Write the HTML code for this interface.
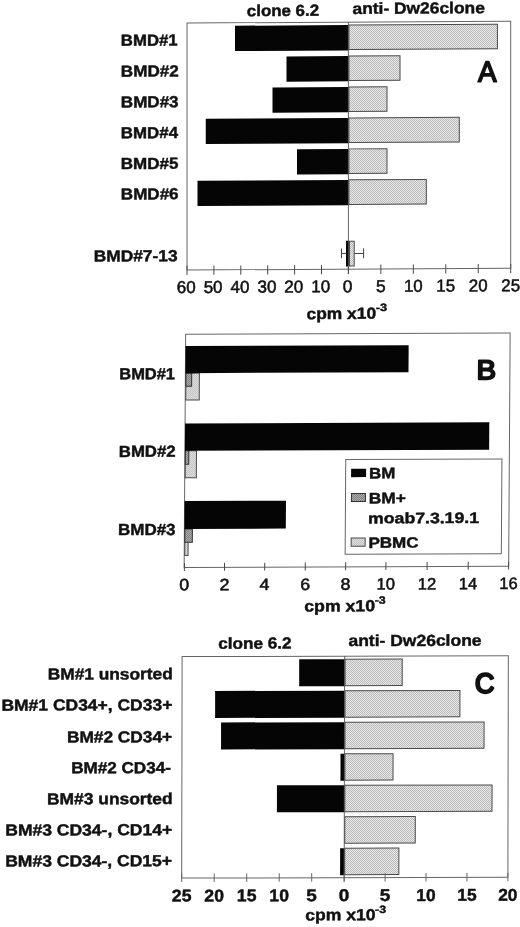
<!DOCTYPE html>
<html><head><meta charset="utf-8"><title>Figure</title>
<style>html,body{margin:0;padding:0;background:#fff}svg{display:block}text{font-family:"Liberation Sans",Arial,Helvetica,sans-serif}</style>
</head><body>
<svg width="520" height="927" viewBox="0 0 520 927">
<rect width="520" height="927" fill="#fff"/>
<defs>
<pattern id="ltA" width="2" height="2" patternUnits="userSpaceOnUse" patternTransform="matrix(1.000000,0.005600,0.000000,1.000000,0.0000,-1.9488)"><rect width="2" height="2" fill="#e8e8e8"/><rect width="1" height="1" fill="#bababa"/><rect x="1" y="1" width="1" height="1" fill="#bababa"/></pattern>
<pattern id="dkA" width="2" height="2" patternUnits="userSpaceOnUse" patternTransform="matrix(1.000000,0.005600,0.000000,1.000000,0.0000,-1.9488)"><rect width="2" height="2" fill="#bcbcbc"/><rect width="1" height="1" fill="#707070"/><rect x="1" y="1" width="1" height="1" fill="#707070"/></pattern>
<pattern id="ltB" width="2" height="2" patternUnits="userSpaceOnUse" patternTransform="matrix(1.000026,0.004000,0.006400,1.000026,-2.8890,-1.3996)"><rect width="2" height="2" fill="#e8e8e8"/><rect width="1" height="1" fill="#bababa"/><rect x="1" y="1" width="1" height="1" fill="#bababa"/></pattern>
<pattern id="dkB" width="2" height="2" patternUnits="userSpaceOnUse" patternTransform="matrix(1.000026,0.004000,0.006400,1.000026,-2.8890,-1.3996)"><rect width="2" height="2" fill="#bcbcbc"/><rect width="1" height="1" fill="#707070"/><rect x="1" y="1" width="1" height="1" fill="#707070"/></pattern>
<pattern id="ltC" width="2" height="2" patternUnits="userSpaceOnUse" patternTransform="matrix(1.000005,0.002500,0.002000,1.000005,-1.5357,-0.8638)"><rect width="2" height="2" fill="#e8e8e8"/><rect width="1" height="1" fill="#bababa"/><rect x="1" y="1" width="1" height="1" fill="#bababa"/></pattern>
<pattern id="dkC" width="2" height="2" patternUnits="userSpaceOnUse" patternTransform="matrix(1.000005,0.002500,0.002000,1.000005,-1.5357,-0.8638)"><rect width="2" height="2" fill="#bcbcbc"/><rect width="1" height="1" fill="#707070"/><rect x="1" y="1" width="1" height="1" fill="#707070"/></pattern>
</defs>
<g transform="matrix(1,-0.0056,0,1,0.000,1.949)">
<rect x="187.00" y="22.10" width="323.70" height="247.00" fill="none" stroke="#666" stroke-width="1"/>
<rect x="235.00" y="25.10" width="113.40" height="25.30" fill="#050505"/>
<rect x="348.90" y="25.00" width="148.50" height="24.60" fill="url(#ltA)" stroke="#4a4a4a" stroke-width="1"/>
<rect x="286.50" y="56.07" width="61.90" height="25.30" fill="#050505"/>
<rect x="348.90" y="55.97" width="51.10" height="24.60" fill="url(#ltA)" stroke="#4a4a4a" stroke-width="1"/>
<rect x="272.50" y="87.04" width="75.90" height="25.30" fill="#050505"/>
<rect x="348.90" y="86.94" width="38.10" height="24.60" fill="url(#ltA)" stroke="#4a4a4a" stroke-width="1"/>
<rect x="205.75" y="118.01" width="142.65" height="25.30" fill="#050505"/>
<rect x="348.90" y="117.91" width="110.40" height="24.60" fill="url(#ltA)" stroke="#4a4a4a" stroke-width="1"/>
<rect x="297.00" y="148.98" width="51.40" height="25.30" fill="#050505"/>
<rect x="348.90" y="148.88" width="38.10" height="24.60" fill="url(#ltA)" stroke="#4a4a4a" stroke-width="1"/>
<rect x="197.50" y="179.95" width="150.90" height="25.30" fill="#050505"/>
<rect x="348.90" y="179.85" width="77.40" height="24.60" fill="url(#ltA)" stroke="#4a4a4a" stroke-width="1"/>
<rect x="346.00" y="240.80" width="3.00" height="25.70" fill="#050505"/>
<rect x="349.50" y="241.30" width="4.70" height="24.70" fill="url(#ltA)" stroke="#4a4a4a" stroke-width="1"/>
<line x1="341.50" y1="253.50" x2="346.00" y2="253.50" stroke="#444" stroke-width="1"/>
<line x1="341.50" y1="248.40" x2="341.50" y2="258.30" stroke="#444" stroke-width="1"/>
<line x1="354.70" y1="253.50" x2="363.60" y2="253.50" stroke="#444" stroke-width="1"/>
<line x1="363.60" y1="248.40" x2="363.60" y2="258.30" stroke="#444" stroke-width="1"/>
<line x1="348.40" y1="22.10" x2="348.40" y2="274.10" stroke="#555" stroke-width="0.9"/>
<line x1="187.00" y1="264.80" x2="187.00" y2="274.10" stroke="#4a4a4a" stroke-width="1"/>
<line x1="213.90" y1="264.80" x2="213.90" y2="274.10" stroke="#4a4a4a" stroke-width="1"/>
<line x1="240.80" y1="264.80" x2="240.80" y2="274.10" stroke="#4a4a4a" stroke-width="1"/>
<line x1="267.70" y1="264.80" x2="267.70" y2="274.10" stroke="#4a4a4a" stroke-width="1"/>
<line x1="294.60" y1="264.80" x2="294.60" y2="274.10" stroke="#4a4a4a" stroke-width="1"/>
<line x1="321.50" y1="264.80" x2="321.50" y2="274.10" stroke="#4a4a4a" stroke-width="1"/>
<line x1="348.40" y1="264.80" x2="348.40" y2="274.10" stroke="#4a4a4a" stroke-width="1"/>
<line x1="380.86" y1="264.80" x2="380.86" y2="274.10" stroke="#4a4a4a" stroke-width="1"/>
<line x1="413.32" y1="264.80" x2="413.32" y2="274.10" stroke="#4a4a4a" stroke-width="1"/>
<line x1="445.78" y1="264.80" x2="445.78" y2="274.10" stroke="#4a4a4a" stroke-width="1"/>
<line x1="478.24" y1="264.80" x2="478.24" y2="274.10" stroke="#4a4a4a" stroke-width="1"/>
<line x1="510.70" y1="264.80" x2="510.70" y2="274.10" stroke="#4a4a4a" stroke-width="1"/>
<text transform="translate(176.74,292.10) scale(0.9915,1)" font-size="17.16" font-weight="normal" fill="#111" stroke="#111" stroke-width="0.55" stroke-linejoin="round">60</text>
<text transform="translate(203.64,292.10) scale(0.9915,1)" font-size="17.16" font-weight="normal" fill="#111" stroke="#111" stroke-width="0.55" stroke-linejoin="round">50</text>
<text transform="translate(230.54,292.10) scale(0.9915,1)" font-size="17.16" font-weight="normal" fill="#111" stroke="#111" stroke-width="0.55" stroke-linejoin="round">40</text>
<text transform="translate(257.44,292.10) scale(0.9915,1)" font-size="17.16" font-weight="normal" fill="#111" stroke="#111" stroke-width="0.55" stroke-linejoin="round">30</text>
<text transform="translate(284.34,292.10) scale(0.9915,1)" font-size="17.16" font-weight="normal" fill="#111" stroke="#111" stroke-width="0.55" stroke-linejoin="round">20</text>
<text transform="translate(311.24,292.10) scale(0.9915,1)" font-size="17.16" font-weight="normal" fill="#111" stroke="#111" stroke-width="0.55" stroke-linejoin="round">10</text>
<text transform="translate(342.77,292.10) scale(1.0127,1)" font-size="17.16" font-weight="normal" fill="#111" stroke="#111" stroke-width="0.55" stroke-linejoin="round">0</text>
<text transform="translate(376.03,292.10) scale(1.0127,1)" font-size="17.16" font-weight="normal" fill="#111" stroke="#111" stroke-width="0.55" stroke-linejoin="round">5</text>
<text transform="translate(403.91,292.10) scale(0.9858,1)" font-size="17.16" font-weight="normal" fill="#111" stroke="#111" stroke-width="0.55" stroke-linejoin="round">10</text>
<text transform="translate(436.37,292.10) scale(0.9858,1)" font-size="17.16" font-weight="normal" fill="#111" stroke="#111" stroke-width="0.55" stroke-linejoin="round">15</text>
<text transform="translate(468.83,292.10) scale(0.9858,1)" font-size="17.16" font-weight="normal" fill="#111" stroke="#111" stroke-width="0.55" stroke-linejoin="round">20</text>
<text transform="translate(501.29,292.10) scale(0.9858,1)" font-size="17.16" font-weight="normal" fill="#111" stroke="#111" stroke-width="0.55" stroke-linejoin="round">25</text>
<text transform="translate(306.61,318.90) scale(1.0851,1)" font-size="16.00" font-weight="bold" fill="#111" stroke="#111" stroke-width="0.45" stroke-linejoin="round">cpm x10</text>
<text transform="translate(375.69,311.30) scale(1.1939,1)" font-size="10.62" font-weight="bold" fill="#111" stroke="#111" stroke-width="0.45" stroke-linejoin="round">-3</text>
<text transform="translate(120.87,44.60) scale(1.0478,1)" font-size="16.00" font-weight="bold" fill="#111" stroke="#111" stroke-width="0.45" stroke-linejoin="round">BMD#1</text>
<text transform="translate(120.85,75.40) scale(1.0671,1)" font-size="16.00" font-weight="bold" fill="#111" stroke="#111" stroke-width="0.45" stroke-linejoin="round">BMD#2</text>
<text transform="translate(120.85,106.20) scale(1.0654,1)" font-size="16.00" font-weight="bold" fill="#111" stroke="#111" stroke-width="0.45" stroke-linejoin="round">BMD#3</text>
<text transform="translate(120.86,137.00) scale(1.0558,1)" font-size="16.00" font-weight="bold" fill="#111" stroke="#111" stroke-width="0.45" stroke-linejoin="round">BMD#4</text>
<text transform="translate(120.85,167.85) scale(1.0630,1)" font-size="16.00" font-weight="bold" fill="#111" stroke="#111" stroke-width="0.45" stroke-linejoin="round">BMD#5</text>
<text transform="translate(120.85,198.35) scale(1.0654,1)" font-size="16.00" font-weight="bold" fill="#111" stroke="#111" stroke-width="0.45" stroke-linejoin="round">BMD#6</text>
<text transform="translate(93.83,260.15) scale(1.0829,1)" font-size="16.00" font-weight="bold" fill="#111" stroke="#111" stroke-width="0.45" stroke-linejoin="round">BMD#7-13</text>
<text transform="translate(246.82,15.60) scale(1.0565,1)" font-size="16.00" font-weight="bold" fill="#111" stroke="#111" stroke-width="0.45" stroke-linejoin="round">clone 6.2</text>
<text transform="translate(352.48,13.90) scale(1.0877,1)" font-size="16.00" font-weight="bold" fill="#111" stroke="#111" stroke-width="0.45" stroke-linejoin="round">anti- Dw26clone</text>
<text transform="translate(477.93,82.45) scale(0.9547,1)" font-size="29.09" font-weight="normal" fill="#111" stroke="#111" stroke-width="1.7" stroke-linejoin="round">A</text>
</g>
<g transform="matrix(1,-0.004,-0.0064,1,2.880,1.388)">
<rect x="184.90" y="333.60" width="324.50" height="233.25" fill="none" stroke="#666" stroke-width="1"/>
<rect x="185.40" y="372.50" width="13.50" height="26.80" fill="url(#ltB)" stroke="#4a4a4a" stroke-width="1"/>
<rect x="185.40" y="372.50" width="5.80" height="13.20" fill="url(#dkB)" stroke="#333" stroke-width="1"/>
<rect x="184.90" y="345.40" width="223.09" height="27.10" fill="#050505"/>
<rect x="185.40" y="450.20" width="11.10" height="26.90" fill="url(#ltB)" stroke="#4a4a4a" stroke-width="1"/>
<rect x="185.40" y="450.20" width="3.40" height="13.40" fill="url(#dkB)" stroke="#333" stroke-width="1"/>
<rect x="184.90" y="422.90" width="304.22" height="27.30" fill="#050505"/>
<rect x="185.40" y="528.30" width="3.30" height="26.50" fill="url(#ltB)" stroke="#4a4a4a" stroke-width="1"/>
<rect x="185.40" y="528.30" width="7.50" height="13.30" fill="url(#dkB)" stroke="#333" stroke-width="1"/>
<rect x="184.90" y="500.40" width="101.41" height="27.90" fill="#050505"/>
<line x1="185.15" y1="562.35" x2="185.15" y2="570.25" stroke="#4a4a4a" stroke-width="1"/>
<line x1="225.25" y1="562.35" x2="225.25" y2="570.25" stroke="#4a4a4a" stroke-width="1"/>
<line x1="265.45" y1="562.35" x2="265.45" y2="570.25" stroke="#4a4a4a" stroke-width="1"/>
<line x1="306.05" y1="562.35" x2="306.05" y2="570.25" stroke="#4a4a4a" stroke-width="1"/>
<line x1="346.35" y1="562.35" x2="346.35" y2="570.25" stroke="#4a4a4a" stroke-width="1"/>
<line x1="386.65" y1="562.35" x2="386.65" y2="570.25" stroke="#4a4a4a" stroke-width="1"/>
<line x1="427.85" y1="562.35" x2="427.85" y2="570.25" stroke="#4a4a4a" stroke-width="1"/>
<line x1="468.95" y1="562.35" x2="468.95" y2="570.25" stroke="#4a4a4a" stroke-width="1"/>
<line x1="509.35" y1="562.35" x2="509.35" y2="570.25" stroke="#4a4a4a" stroke-width="1"/>
<text transform="translate(180.20,589.70) scale(1.0830,1)" font-size="16.44" font-weight="normal" fill="#111" stroke="#111" stroke-width="0.55" stroke-linejoin="round">0</text>
<text transform="translate(220.30,589.70) scale(1.0830,1)" font-size="16.44" font-weight="normal" fill="#111" stroke="#111" stroke-width="0.55" stroke-linejoin="round">2</text>
<text transform="translate(260.50,589.70) scale(1.0830,1)" font-size="16.44" font-weight="normal" fill="#111" stroke="#111" stroke-width="0.55" stroke-linejoin="round">4</text>
<text transform="translate(301.10,589.70) scale(1.0830,1)" font-size="16.44" font-weight="normal" fill="#111" stroke="#111" stroke-width="0.55" stroke-linejoin="round">6</text>
<text transform="translate(341.40,589.70) scale(1.0830,1)" font-size="16.44" font-weight="normal" fill="#111" stroke="#111" stroke-width="0.55" stroke-linejoin="round">8</text>
<text transform="translate(377.46,589.70) scale(1.0056,1)" font-size="16.44" font-weight="normal" fill="#111" stroke="#111" stroke-width="0.55" stroke-linejoin="round">10</text>
<text transform="translate(418.66,589.70) scale(1.0056,1)" font-size="16.44" font-weight="normal" fill="#111" stroke="#111" stroke-width="0.55" stroke-linejoin="round">12</text>
<text transform="translate(459.76,589.70) scale(1.0056,1)" font-size="16.44" font-weight="normal" fill="#111" stroke="#111" stroke-width="0.55" stroke-linejoin="round">14</text>
<text transform="translate(500.16,589.70) scale(1.0056,1)" font-size="16.44" font-weight="normal" fill="#111" stroke="#111" stroke-width="0.55" stroke-linejoin="round">16</text>
<text transform="translate(305.29,611.40) scale(1.1058,1)" font-size="16.00" font-weight="bold" fill="#111" stroke="#111" stroke-width="0.45" stroke-linejoin="round">cpm x10</text>
<text transform="translate(375.71,603.90) scale(1.1591,1)" font-size="10.62" font-weight="bold" fill="#111" stroke="#111" stroke-width="0.45" stroke-linejoin="round">-3</text>
<text transform="translate(118.79,378.40) scale(1.0289,1)" font-size="16.00" font-weight="bold" fill="#111" stroke="#111" stroke-width="0.45" stroke-linejoin="round">BMD#1</text>
<text transform="translate(118.87,456.00) scale(1.0461,1)" font-size="16.00" font-weight="bold" fill="#111" stroke="#111" stroke-width="0.45" stroke-linejoin="round">BMD#2</text>
<text transform="translate(118.66,534.20) scale(1.0597,1)" font-size="16.00" font-weight="bold" fill="#111" stroke="#111" stroke-width="0.45" stroke-linejoin="round">BMD#3</text>
<text transform="translate(476.03,379.85) scale(1.0771,1)" font-size="27.20" font-weight="normal" fill="#111" stroke="#111" stroke-width="2.0" stroke-linejoin="round">B</text>
<rect x="345.80" y="459.60" width="156.20" height="94.70" fill="#fff" stroke="#666" stroke-width="1"/>
<rect x="351.25" y="468.75" width="15.00" height="8.45" fill="#050505"/>
<rect x="351.75" y="493.50" width="14.00" height="8.00" fill="url(#dkB)" stroke="#333" stroke-width="1"/>
<rect x="351.75" y="538.00" width="14.00" height="8.25" fill="url(#ltB)" stroke="#4a4a4a" stroke-width="1"/>
<text transform="translate(369.16,478.50) scale(1.1150,1)" font-size="15.13" font-weight="bold" fill="#111" stroke="#111" stroke-width="0.45" stroke-linejoin="round">BM</text>
<text transform="translate(369.13,503.50) scale(1.1463,1)" font-size="15.13" font-weight="bold" fill="#111" stroke="#111" stroke-width="0.45" stroke-linejoin="round">BM+</text>
<text transform="translate(368.55,523.50) scale(1.1677,1)" font-size="15.13" font-weight="bold" fill="#111" stroke="#111" stroke-width="0.45" stroke-linejoin="round">moab7.3.19.1</text>
<text transform="translate(369.15,548.00) scale(1.1238,1)" font-size="15.13" font-weight="bold" fill="#111" stroke="#111" stroke-width="0.45" stroke-linejoin="round">PBMC</text>
</g>
<g transform="matrix(1,-0.0025,-0.002,1,1.534,0.860)">
<rect x="181.90" y="656.20" width="326.20" height="221.50" fill="none" stroke="#666" stroke-width="1"/>
<rect x="344.90" y="659.25" width="57.10" height="26.40" fill="url(#ltC)" stroke="#4a4a4a" stroke-width="1"/>
<rect x="299.00" y="659.15" width="45.40" height="27.00" fill="#050505"/>
<rect x="344.90" y="690.75" width="114.90" height="26.40" fill="url(#ltC)" stroke="#4a4a4a" stroke-width="1"/>
<rect x="215.00" y="690.65" width="129.40" height="27.00" fill="#050505"/>
<rect x="344.90" y="722.25" width="139.10" height="26.40" fill="url(#ltC)" stroke="#4a4a4a" stroke-width="1"/>
<rect x="221.00" y="722.15" width="123.40" height="27.00" fill="#050505"/>
<rect x="344.90" y="753.75" width="48.15" height="26.40" fill="url(#ltC)" stroke="#4a4a4a" stroke-width="1"/>
<rect x="340.50" y="753.65" width="3.90" height="27.00" fill="#050505"/>
<rect x="344.90" y="785.25" width="147.20" height="26.40" fill="url(#ltC)" stroke="#4a4a4a" stroke-width="1"/>
<rect x="277.00" y="785.15" width="67.40" height="27.00" fill="#050505"/>
<rect x="344.90" y="816.75" width="70.50" height="26.40" fill="url(#ltC)" stroke="#4a4a4a" stroke-width="1"/>
<rect x="344.90" y="848.25" width="54.15" height="26.40" fill="url(#ltC)" stroke="#4a4a4a" stroke-width="1"/>
<rect x="340.30" y="848.15" width="4.10" height="27.00" fill="#050505"/>
<line x1="344.40" y1="656.20" x2="344.40" y2="881.70" stroke="#555" stroke-width="0.9"/>
<line x1="181.90" y1="873.20" x2="181.90" y2="881.70" stroke="#666" stroke-width="1"/>
<line x1="214.40" y1="873.20" x2="214.40" y2="881.70" stroke="#666" stroke-width="1"/>
<line x1="246.90" y1="873.20" x2="246.90" y2="881.70" stroke="#666" stroke-width="1"/>
<line x1="279.40" y1="873.20" x2="279.40" y2="881.70" stroke="#666" stroke-width="1"/>
<line x1="311.90" y1="873.20" x2="311.90" y2="881.70" stroke="#666" stroke-width="1"/>
<line x1="344.40" y1="873.20" x2="344.40" y2="881.70" stroke="#666" stroke-width="1"/>
<line x1="385.32" y1="873.20" x2="385.32" y2="881.70" stroke="#666" stroke-width="1"/>
<line x1="426.25" y1="873.20" x2="426.25" y2="881.70" stroke="#666" stroke-width="1"/>
<line x1="467.18" y1="873.20" x2="467.18" y2="881.70" stroke="#666" stroke-width="1"/>
<line x1="508.10" y1="873.20" x2="508.10" y2="881.70" stroke="#666" stroke-width="1"/>
<text transform="translate(172.10,901.10) scale(1.0358,1)" font-size="17.02" font-weight="bold" fill="#111" stroke="#111" stroke-width="0.45" stroke-linejoin="round">25</text>
<text transform="translate(204.60,901.10) scale(1.0358,1)" font-size="17.02" font-weight="bold" fill="#111" stroke="#111" stroke-width="0.45" stroke-linejoin="round">20</text>
<text transform="translate(237.10,901.10) scale(1.0358,1)" font-size="17.02" font-weight="bold" fill="#111" stroke="#111" stroke-width="0.45" stroke-linejoin="round">15</text>
<text transform="translate(269.60,901.10) scale(1.0358,1)" font-size="17.02" font-weight="bold" fill="#111" stroke="#111" stroke-width="0.45" stroke-linejoin="round">10</text>
<text transform="translate(306.63,901.10) scale(1.1134,1)" font-size="17.02" font-weight="bold" fill="#111" stroke="#111" stroke-width="0.45" stroke-linejoin="round">5</text>
<text transform="translate(339.13,901.10) scale(1.1134,1)" font-size="17.02" font-weight="bold" fill="#111" stroke="#111" stroke-width="0.45" stroke-linejoin="round">0</text>
<text transform="translate(380.06,901.10) scale(1.1134,1)" font-size="17.02" font-weight="bold" fill="#111" stroke="#111" stroke-width="0.45" stroke-linejoin="round">5</text>
<text transform="translate(416.61,901.10) scale(1.0187,1)" font-size="17.02" font-weight="bold" fill="#111" stroke="#111" stroke-width="0.45" stroke-linejoin="round">10</text>
<text transform="translate(457.53,901.10) scale(1.0187,1)" font-size="17.02" font-weight="bold" fill="#111" stroke="#111" stroke-width="0.45" stroke-linejoin="round">15</text>
<text transform="translate(498.46,901.10) scale(1.0187,1)" font-size="17.02" font-weight="bold" fill="#111" stroke="#111" stroke-width="0.45" stroke-linejoin="round">20</text>
<text transform="translate(305.55,920.30) scale(1.0986,1)" font-size="16.00" font-weight="bold" fill="#111" stroke="#111" stroke-width="0.45" stroke-linejoin="round">cpm x10</text>
<text transform="translate(375.41,913.00) scale(1.1591,1)" font-size="10.62" font-weight="bold" fill="#111" stroke="#111" stroke-width="0.45" stroke-linejoin="round">-3</text>
<text transform="translate(218.07,648.40) scale(1.0692,1)" font-size="16.00" font-weight="bold" fill="#111" stroke="#111" stroke-width="0.45" stroke-linejoin="round">clone 6.2</text>
<text transform="translate(348.23,646.10) scale(1.0931,1)" font-size="16.00" font-weight="bold" fill="#111" stroke="#111" stroke-width="0.45" stroke-linejoin="round">anti- Dw26clone</text>
<text transform="translate(474.91,693.05) scale(0.9719,1)" font-size="27.49" font-weight="normal" fill="#111" stroke="#111" stroke-width="2.4" stroke-linejoin="round">C</text>
<text transform="translate(47.58,678.85) scale(1.0830,1)" font-size="16.00" font-weight="bold" fill="#111" stroke="#111" stroke-width="0.45" stroke-linejoin="round">BM#1 unsorted</text>
<text transform="translate(1.32,709.85) scale(1.0927,1)" font-size="16.00" font-weight="bold" fill="#111" stroke="#111" stroke-width="0.45" stroke-linejoin="round">BM#1 CD34+, CD33+</text>
<text transform="translate(66.83,741.85) scale(1.0832,1)" font-size="16.00" font-weight="bold" fill="#111" stroke="#111" stroke-width="0.45" stroke-linejoin="round">BM#2 CD34+</text>
<text transform="translate(71.15,772.65) scale(1.0694,1)" font-size="16.00" font-weight="bold" fill="#111" stroke="#111" stroke-width="0.45" stroke-linejoin="round">BM#2 CD34-</text>
<text transform="translate(47.13,803.65) scale(1.0869,1)" font-size="16.00" font-weight="bold" fill="#111" stroke="#111" stroke-width="0.45" stroke-linejoin="round">BM#3 unsorted</text>
<text transform="translate(5.42,834.75) scale(1.0945,1)" font-size="16.00" font-weight="bold" fill="#111" stroke="#111" stroke-width="0.45" stroke-linejoin="round">BM#3 CD34-, CD14+</text>
<text transform="translate(5.42,865.75) scale(1.0945,1)" font-size="16.00" font-weight="bold" fill="#111" stroke="#111" stroke-width="0.45" stroke-linejoin="round">BM#3 CD34-, CD15+</text>
</g>
</svg>
</body></html>
